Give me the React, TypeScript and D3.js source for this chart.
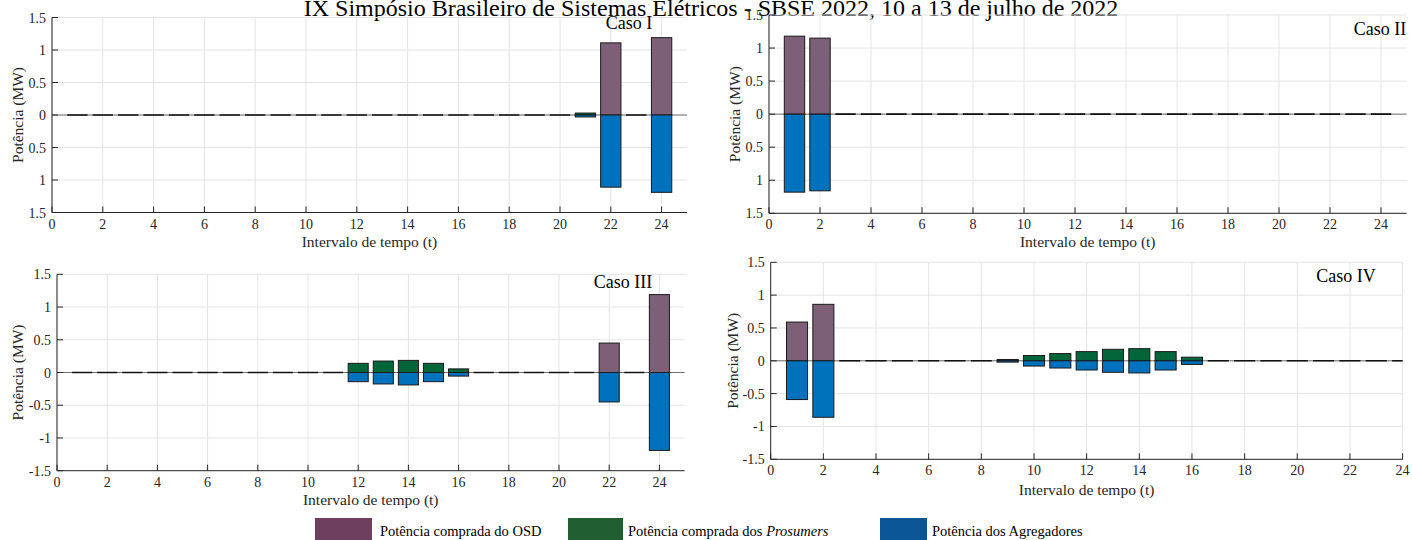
import * as d3 from "d3";

// intervalos de tempo (t)
const hours = [1, 2, 3, 4, 5, 6, 7, 8, 9, 10, 11, 12, 13, 14, 15, 16, 17, 18, 19, 20, 21, 22, 23, 24];
const xTicks = [0, 2, 4, 6, 8, 10, 12, 14, 16, 18, 20, 22, 24];
const yTicks = [-1.5, -1, -0.5, 0, 0.5, 1, 1.5];
// top row prints no minus sign on the negative side
const yLabelsTop = ["1.5", "1", "0.5", "0", "0.5", "1", "1.5"];
const yLabelsBottom = ["-1.5", "-1", "-0.5", "0", "0.5", "1", "1.5"];

// Caso I
const osd1 = [0, 0, 0, 0, 0, 0, 0, 0, 0, 0, 0, 0, 0, 0, 0, 0, 0, 0, 0, 0, 0, 1.11, 0, 1.19];
const pro1 = [0, 0, 0, 0, 0, 0, 0, 0, 0, 0, 0, 0, 0, 0, 0, 0, 0, 0, 0, 0, 0.03, 0, 0, 0];
const agr1 = [0, 0, 0, 0, 0, 0, 0, 0, 0, 0, 0, 0, 0, 0, 0, 0, 0, 0, 0, 0, -0.03, -1.11, 0, -1.19];

// Caso II
const osd2 = [1.18, 1.15, 0, 0, 0, 0, 0, 0, 0, 0, 0, 0, 0, 0, 0, 0, 0, 0, 0, 0, 0, 0, 0, 0];
const pro2 = [0, 0, 0, 0, 0, 0, 0, 0, 0, 0, 0, 0, 0, 0, 0, 0, 0, 0, 0, 0, 0, 0, 0, 0];
const agr2 = [-1.18, -1.16, 0, 0, 0, 0, 0, 0, 0, 0, 0, 0, 0, 0, 0, 0, 0, 0, 0, 0, 0, 0, 0, 0];

// Caso III
const osd3 = [0, 0, 0, 0, 0, 0, 0, 0, 0, 0, 0, 0, 0, 0, 0, 0, 0, 0, 0, 0, 0, 0.45, 0, 1.19];
const pro3 = [0, 0, 0, 0, 0, 0, 0, 0, 0, 0, 0, 0.14, 0.175, 0.185, 0.14, 0.055, 0, 0, 0, 0, 0, 0, 0, 0];
const agr3 = [0, 0, 0, 0, 0, 0, 0, 0, 0, 0, 0, -0.14, -0.175, -0.19, -0.14, -0.055, 0, 0, 0, 0, 0, -0.45, 0, -1.19];

// Caso IV
const osd4 = [0.59, 0.86, 0, 0, 0, 0, 0, 0, 0, 0, 0, 0, 0, 0, 0, 0, 0, 0, 0, 0, 0, 0, 0, 0];
const pro4 = [0, 0, 0, 0, 0, 0, 0, 0, 0.02, 0.08, 0.11, 0.14, 0.175, 0.185, 0.14, 0.055, 0, 0, 0, 0, 0, 0, 0, 0];
const agr4 = [-0.59, -0.86, 0, 0, 0, 0, 0, 0, -0.02, -0.08, -0.11, -0.14, -0.175, -0.185, -0.14, -0.055, 0, 0, 0, 0, 0, 0, 0, 0];

const legendLabels = ["Potência comprada do OSD", "Potência comprada dos ", "Potência dos Agregadores"];

const FONT = "'Liberation Serif', 'Times New Roman', serif";
const C_OSD = "#7e5f78";
const C_PRO = "#03663a";
const C_AGR = "#0071bd";
const L_OSD = "#6f3f60";
const L_PRO = "#1e5e31";
const L_AGR = "#0b5597";
const INK = "#262626";

function Panel({ id, left, right, top, bottom, xMax, osd, pro, agr, yLabels, caso, casoX, casoY, yLabX, xLabY }) {
  const x = d3.scaleLinear().domain([0, xMax]).range([left, right]);
  const y = d3.scaleLinear().domain([-1.5, 1.5]).range([bottom, top]);
  const bw = x(0.8) - x(0);
  const y0 = y(0);
  const tick = 6;

  return (
    <g>
      <defs>
        <clipPath id={id}>
          <rect x={left} y={top} width={right - left} height={bottom - top} />
        </clipPath>
      </defs>
      {/* grid */}
      {xTicks.map((t) => (
        <line key={"gx" + t} x1={x(t)} x2={x(t)} y1={top} y2={bottom} stroke="#e4e4e4" strokeWidth={1} />
      ))}
      {yTicks.map((t) => (
        <line key={"gy" + t} x1={left} x2={right} y1={y(t)} y2={y(t)} stroke="#e4e4e4" strokeWidth={1} />
      ))}
      {/* baseline */}
      <line x1={left} x2={right} y1={y0} y2={y0} stroke="#707070" strokeWidth={1} />
      <g clipPath={`url(#${id})`}>
        {hours.map((t, i) => {
          const x0 = x(t) - bw / 2;
          const items = [];
          items.push(
            <line key={"z" + t} x1={x0} x2={x0 + bw} y1={y0} y2={y0} stroke="#111" strokeWidth={1.6} />
          );
          if (osd[i] > 0) {
            items.push(
              <rect key={"o" + t} x={x0} width={bw} y={y(osd[i])} height={y0 - y(osd[i])}
                fill={C_OSD} stroke="#1a1a1a" strokeWidth={1} />
            );
          }
          if (pro[i] > 0) {
            const base = osd[i];
            items.push(
              <rect key={"p" + t} x={x0} width={bw} y={y(base + pro[i])} height={y(base) - y(base + pro[i])}
                fill={C_PRO} stroke="#1a1a1a" strokeWidth={1} />
            );
          }
          if (agr[i] < 0) {
            items.push(
              <rect key={"a" + t} x={x0} width={bw} y={y0} height={y(agr[i]) - y0}
                fill={C_AGR} stroke="#1a1a1a" strokeWidth={1} />
            );
          }
          return <g key={"b" + t}>{items}</g>;
        })}
      </g>
      {/* axes */}
      <line x1={left} x2={left} y1={top} y2={bottom} stroke={INK} strokeWidth={1} />
      <line x1={left} x2={right} y1={bottom} y2={bottom} stroke={INK} strokeWidth={1} />
      {xTicks.map((t) => (
        <g key={"tx" + t}>
          <line x1={x(t)} x2={x(t)} y1={bottom} y2={bottom - tick} stroke={INK} strokeWidth={1} />
          <text x={x(t)} y={bottom + 16} textAnchor="middle" fontFamily={FONT} fontSize={14} fill={INK}>{t}</text>
        </g>
      ))}
      {yTicks.map((t, i) => (
        <g key={"ty" + t}>
          <line x1={left} x2={left + tick} y1={y(t)} y2={y(t)} stroke={INK} strokeWidth={1} />
          <text x={left - 6} y={y(t) + 5} textAnchor="end" fontFamily={FONT} fontSize={14} fill={INK}>{yLabels[i]}</text>
        </g>
      ))}
      <text x={(left + right) / 2} y={xLabY} textAnchor="middle" fontFamily={FONT} fontSize={15.5} fill={INK}>
        Intervalo de tempo (t)
      </text>
      <text transform={`translate(${yLabX},${(top + bottom) / 2}) rotate(-90)`} textAnchor="middle" fontFamily={FONT}
        fontSize={15.5} fill={INK}>
        Potência (MW)
      </text>
      <text x={casoX} y={casoY} textAnchor="middle" fontFamily={FONT} fontSize={18} fill="#000">{caso}</text>
    </g>
  );
}

export default function App() {
  const W = 1412;
  const H = 540;
  const swatches = [
    { x: 315, w: 57, c: L_OSD, tx: 380 },
    { x: 568, w: 55, c: L_PRO, tx: 628 },
    { x: 880, w: 47, c: L_AGR, tx: 932 },
  ];
  return (
    <svg width={W} height={H} style={{ position: "absolute", left: 0, top: 0, background: "#fff" }}>
      <rect width={W} height={H} fill="#fff" />
      <text x={711} y={16} textAnchor="middle" fontFamily={FONT} fontSize={24} fill="#000">
        IX Simpósio Brasileiro de Sistemas Elétricos - SBSE 2022, 10 a 13 de julho de 2022
      </text>
      <Panel id="c1" left={52} right={687} top={17.5} bottom={212.5} xMax={25} osd={osd1} pro={pro1} agr={agr1}
        yLabels={yLabelsTop} caso="Caso I" casoX={629} casoY={29} yLabX={23} xLabY={247} />
      <Panel id="c2" left={769} right={1406.5} top={15} bottom={213.3} xMax={25} osd={osd2} pro={pro2} agr={agr2}
        yLabels={yLabelsTop} caso="Caso II" casoX={1380} casoY={35} yLabX={740} xLabY={247} />
      <Panel id="c3" left={57} right={684.5} top={274.3} bottom={470.7} xMax={25} osd={osd3} pro={pro3} agr={agr3}
        yLabels={yLabelsBottom} caso="Caso III" casoX={623} casoY={288} yLabX={23} xLabY={505} />
      <Panel id="c4" left={770.7} right={1402.6} top={262.3} bottom={459.3} xMax={24} osd={osd4} pro={pro4} agr={agr4}
        yLabels={yLabelsBottom} caso="Caso IV" casoX={1346} casoY={282} yLabX={738} xLabY={495} />
      {swatches.map((s, i) => (
        <g key={"lg" + i}>
          <rect x={s.x} y={518} width={s.w} height={22} fill={s.c} />
          <text x={s.tx} y={536} fontFamily={FONT} fontSize={14.5} fill="#000">
            {legendLabels[i]}
            {i === 1 ? <tspan fontStyle="italic">Prosumers</tspan> : null}
          </text>
        </g>
      ))}
    </svg>
  );
}
